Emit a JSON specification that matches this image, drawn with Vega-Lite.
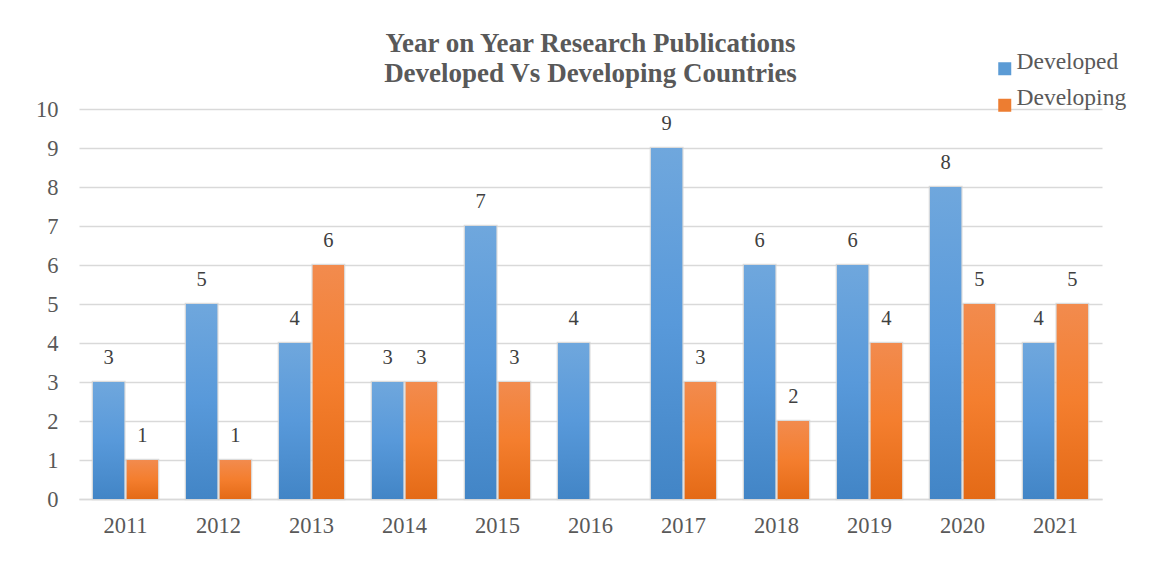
{
  "$schema": "https://vega.github.io/schema/vega-lite/v6.json",
  "autosize": "none",
  "width": 1023,
  "height": 390,
  "padding": {"left": 79, "top": 109, "right": 56, "bottom": 72},
  "background": "white",
  "title": {
    "text": ["Year on Year Research Publications", "Developed Vs Developing Countries"],
    "font": "Liberation Serif",
    "fontSize": 27,
    "fontWeight": "bold",
    "color": "#595959",
    "anchor": "middle",
    "offset": 0,
    "dy": 31,
    "lineHeight": 30
  },
  "config": {
    "view": {"stroke": null},
    "axis": {"labelFont": "Liberation Serif", "labelColor": "#595959", "labelFontSize": 22.5}
  },
  "data": {
    "values": [
      {"year": "2011", "series": "Developed", "value": 3},
      {"year": "2011", "series": "Developing", "value": 1},
      {"year": "2012", "series": "Developed", "value": 5},
      {"year": "2012", "series": "Developing", "value": 1},
      {"year": "2013", "series": "Developed", "value": 4},
      {"year": "2013", "series": "Developing", "value": 6},
      {"year": "2014", "series": "Developed", "value": 3},
      {"year": "2014", "series": "Developing", "value": 3},
      {"year": "2015", "series": "Developed", "value": 7},
      {"year": "2015", "series": "Developing", "value": 3},
      {"year": "2016", "series": "Developed", "value": 4},
      {"year": "2016", "series": "Developing", "value": 0},
      {"year": "2017", "series": "Developed", "value": 9},
      {"year": "2017", "series": "Developing", "value": 3},
      {"year": "2018", "series": "Developed", "value": 6},
      {"year": "2018", "series": "Developing", "value": 2},
      {"year": "2019", "series": "Developed", "value": 6},
      {"year": "2019", "series": "Developing", "value": 4},
      {"year": "2020", "series": "Developed", "value": 8},
      {"year": "2020", "series": "Developing", "value": 5},
      {"year": "2021", "series": "Developed", "value": 4},
      {"year": "2021", "series": "Developing", "value": 5}
    ]
  },
  "encoding": {
    "x": {
      "field": "year", "type": "nominal",
      "scale": {"paddingInner": 0.3, "paddingOuter": 0.15},
      "axis": {"title": null, "labelAngle": 0, "domain": true, "domainColor": "#d9d9d9", "domainWidth": 1.5, "ticks": false, "labelPadding": 15, "grid": false}
    },
    "xOffset": {"field": "series", "type": "nominal", "scale": {"paddingInner": 0.07}},
    "y": {
      "field": "value", "type": "quantitative",
      "scale": {"domain": [0, 10], "nice": false},
      "axis": {"title": null, "values": [0,1,2,3,4,5,6,7,8,9,10], "labelOverlap": false, "domain": false, "ticks": false, "labelPadding": 21, "grid": true, "gridColor": "#d9d9d9", "gridWidth": 1.5}
    }
  },
  "layer": [
    {
      "transform": [{"filter": "datum.value > 0"}],
      "mark": {"type": "bar", "stroke": "#d4d4d4", "strokeWidth": 2.5, "strokeOpacity": 0.8},
      "encoding": {
        "color": {
          "field": "series", "type": "nominal",
          "scale": {"domain": ["Developed", "Developing"], "range": ["#5b9bd5", "#ed7d31"]},
          "legend": {
            "title": null, "orient": "none", "legendX": 914, "legendY": -52,
            "symbolType": "square", "symbolSize": 169, "symbolStrokeWidth": 0,
            "labelFont": "Liberation Serif", "labelFontSize": 23.5, "labelColor": "#595959",
            "labelBaseline": "alphabetic",
            "rowPadding": 9.5, "labelOffset": 0, "padding": 0
          }
        }
      }
    },
    {
      "transform": [{"filter": "datum.series === 'Developed'"}],
      "mark": {"type": "bar", "color": {"gradient": "linear", "x1": 0, "y1": 0, "x2": 0, "y2": 1, "stops": [{"offset": 0, "color": "#6fa7dd"}, {"offset": 0.5, "color": "#5899da"}, {"offset": 1, "color": "#4285c6"}]}}
    },
    {
      "transform": [{"filter": "datum.series === 'Developing' && datum.value > 0"}],
      "mark": {"type": "bar", "color": {"gradient": "linear", "x1": 0, "y1": 0, "x2": 0, "y2": 1, "stops": [{"offset": 0, "color": "#f28b4e"}, {"offset": 0.5, "color": "#f47e2e"}, {"offset": 1, "color": "#e46a16"}]}}
    },
    {
      "transform": [{"filter": "datum.value > 0"}],
      "mark": {"type": "text", "font": "Liberation Serif", "fontSize": 20.5, "color": "#404040", "dy": -24, "baseline": "middle"},
      "encoding": {"text": {"field": "value", "type": "quantitative"}}
    }
  ]
}
